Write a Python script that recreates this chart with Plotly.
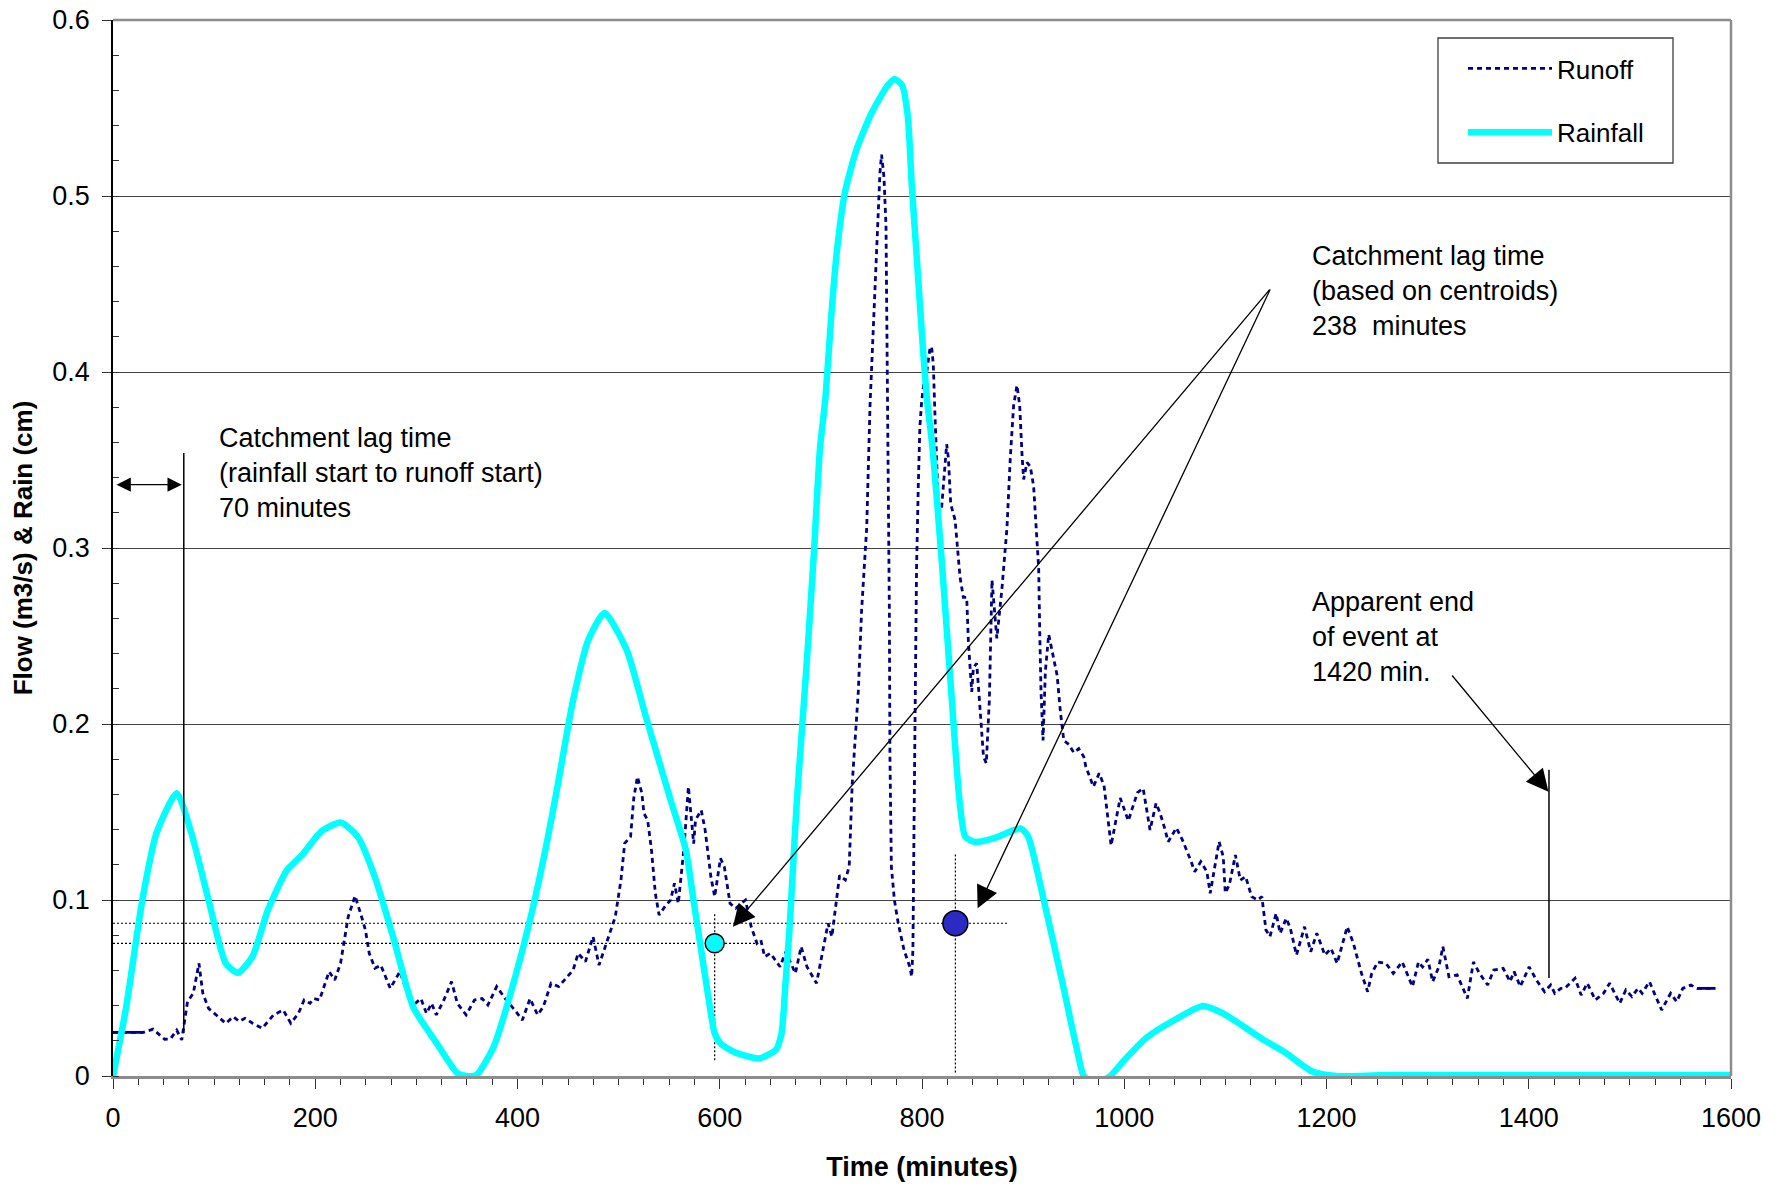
import plotly.graph_objects as go

# ---------------- data ----------------
runoff_time = [0, 30, 39.6, 51, 56.7, 63, 68, 73.7, 79.4, 85, 88.8, 94.5, 104, 111.5, 119, 124.8,
               130.5, 138, 147.5, 158.8, 168.3, 175.8, 183.4, 189, 194.8, 198.5, 204.2, 213.7, 219.3,
               225, 232.6, 239.4, 245.8, 249.6, 253.4, 259, 264.8, 274.2, 283.7, 291, 296.9, 304.5,
               310, 315, 319.7, 327.2, 334.8, 340.5, 349.2, 357.5, 365, 370.7, 379.4, 387.8, 397.2,
               404.8, 412.4, 419.9, 425.6, 433.2, 440.7, 448.3, 455, 460, 467.2, 474.7, 480.6, 489,
               496.7, 502.3, 506, 511.8, 515, 518.6, 523, 525, 528.7, 532.5, 536.3, 540, 545.7, 551.4,
               555.2, 559, 564.7, 569, 574.2, 576, 581.7, 585.5, 591.2, 595, 600.7, 604.5, 610.2,
               615.9, 625.4, 631.1, 636.8, 640.6, 644.4, 650.1, 659.6, 665.3, 674.8, 680.5, 686.2,
               695.7, 701.4, 707.1, 710.9, 714.7, 718.5, 724.2, 728, 731, 734.8, 737, 740.3, 745.3,
               748.6, 751.9, 755.2, 758.4, 760, 762.4, 764.4, 765.7, 766.7, 767.7, 768.3, 769.7,
               772.7, 776.5, 782.2, 787.9, 789.8, 791, 792.5, 794.6, 796.3, 797.9, 799.6, 802, 804.6,
               807.8, 809.5, 811.2, 812.8, 814.5, 816.1, 819.4, 821.8, 824.4, 826.1, 828.4, 832.7,
               836, 837.6, 840.9, 844.2, 845.9, 849.2, 850.8, 854.1, 856.8, 859.1, 860.8, 863.6,
               866.6, 869.2, 871.1, 874, 879, 884, 887.3, 890.6, 893.9, 896.6, 898.9, 900.5, 903.8,
               907.1, 910.4, 913.1, 915.4, 916.4, 917.7, 919.7, 922, 925.3, 928.6, 933.6, 936.9,
               940.2, 945.2, 950.1, 955, 960, 962, 969.5, 975.2, 980, 987, 996, 1004, 1013, 1018.7,
               1025.5, 1031.5, 1035.5, 1039.5, 1043.5, 1051.6, 1057.6, 1065.6, 1069.7, 1075.7, 1081.7,
               1085, 1087.8, 1093.8, 1097.9, 1099.9, 1103.9, 1109.9, 1114.8, 1120, 1126, 1132,
               1136.1, 1140.1, 1144.1, 1150.2, 1154.2, 1160.2, 1164.2, 1170.3, 1178.3, 1184.4,
               1190.4, 1198.4, 1204.5, 1210.5, 1220.5, 1226.6, 1234.6, 1240.7, 1244.7, 1250.7,
               1258.8, 1266, 1274.9, 1285, 1291, 1295, 1300.2, 1305, 1311.1, 1315.1, 1321.1, 1329.2,
               1339.3, 1345.3, 1351.3, 1359.4, 1365.4, 1374.7, 1381.5, 1385.5, 1391.6, 1400.4,
               1407.6, 1415.6, 1421.7, 1425.7, 1431.7, 1435.7, 1445.8, 1451.8, 1457.8, 1465.9, 1474,
               1480, 1490, 1496, 1502, 1508.1, 1512.1, 1519.4, 1524.2, 1531.4, 1540.3, 1546.3,
               1552.3, 1560.4, 1566.4, 1584.5]
runoff_flow = [0.0248, 0.0248, 0.0266, 0.0209, 0.021, 0.026, 0.0205, 0.0423, 0.047, 0.064, 0.047,
               0.0384, 0.0337, 0.0299, 0.0337, 0.031, 0.0328, 0.03, 0.0271, 0.0347, 0.0375, 0.03,
               0.0356, 0.0432, 0.0413, 0.044, 0.0432, 0.0593, 0.0545, 0.064, 0.0905, 0.1023, 0.0905,
               0.083, 0.0697, 0.0612, 0.063, 0.0498, 0.0593, 0.047, 0.0403, 0.044, 0.0356, 0.0413,
               0.0347, 0.0432, 0.0536, 0.0413, 0.0347, 0.0432, 0.044, 0.0403, 0.0508, 0.044, 0.0375,
               0.0318, 0.044, 0.0347, 0.0394, 0.0527, 0.0508, 0.0555, 0.0602, 0.0697, 0.065, 0.0792,
               0.063, 0.0773, 0.0905, 0.1114, 0.1322, 0.136, 0.158, 0.17, 0.1606, 0.1492, 0.1454,
               0.1284, 0.1038, 0.0915, 0.0962, 0.1, 0.1095, 0.098, 0.13, 0.1644, 0.132, 0.1454,
               0.151, 0.14, 0.1133, 0.1019, 0.1237, 0.119, 0.098, 0.0953, 0.1, 0.0848, 0.0754,
               0.0773, 0.0678, 0.0697, 0.0621, 0.0706, 0.0583, 0.0735, 0.0621, 0.0527, 0.0706,
               0.0867, 0.0792, 0.0962, 0.114, 0.1114, 0.119, 0.166, 0.202, 0.2183, 0.2649, 0.3113,
               0.381, 0.4272, 0.4736, 0.513, 0.5235, 0.5107, 0.483, 0.4044, 0.3345, 0.2649, 0.1814,
               0.119, 0.1, 0.0867, 0.0716, 0.0621, 0.0564, 0.0716, 0.166, 0.2883, 0.335, 0.369,
               0.383, 0.3947, 0.3994, 0.4133, 0.4145, 0.404, 0.376, 0.351, 0.325, 0.3228, 0.339,
               0.359, 0.351, 0.325, 0.316, 0.2951, 0.2835, 0.2719, 0.2719, 0.2464, 0.2183, 0.232,
               0.2344, 0.2135, 0.1949, 0.1814, 0.1777, 0.2136, 0.2818, 0.27, 0.2486, 0.2765, 0.3113,
               0.351, 0.381, 0.3924, 0.381, 0.3532, 0.339, 0.3486, 0.3463, 0.335, 0.3113, 0.2883,
               0.253, 0.2183, 0.1907, 0.23, 0.2509, 0.2416, 0.2277, 0.2068, 0.1907, 0.1884, 0.1837,
               0.186, 0.1814, 0.1758, 0.1644, 0.172, 0.165, 0.131, 0.158, 0.145, 0.161, 0.1634,
               0.1398, 0.155, 0.1492, 0.1417, 0.1331, 0.141, 0.134, 0.1227, 0.1161, 0.1218, 0.1161,
               0.1038, 0.1133, 0.1331, 0.1246, 0.104, 0.1085, 0.1256, 0.1113, 0.1133, 0.1019, 0.1,
               0.1019, 0.083, 0.0792, 0.0924, 0.0811, 0.0896, 0.084, 0.0687, 0.0848, 0.0706, 0.0811,
               0.0687, 0.0725, 0.064, 0.0848, 0.0754, 0.0583, 0.0479, 0.0583, 0.0648, 0.064, 0.0583,
               0.0648, 0.0508, 0.0648, 0.062, 0.0663, 0.0536, 0.062, 0.0735, 0.0564, 0.0574, 0.0441,
               0.0648, 0.0583, 0.0517, 0.0602, 0.0612, 0.0536, 0.0593, 0.0508, 0.062, 0.0545, 0.0479,
               0.0517, 0.047, 0.0498, 0.0498, 0.0555, 0.046, 0.0527, 0.0432, 0.047, 0.0527, 0.0413,
               0.0489, 0.0451, 0.0498, 0.047, 0.0536, 0.047, 0.0375, 0.047, 0.0422, 0.0498, 0.0517,
               0.0498, 0.0498]

rain_time = [0, 13, 29, 43, 63, 77.5, 94.5, 111.5, 123.6, 138, 153, 172, 187, 206, 225, 242, 259,
             278, 297, 320, 340.5, 350, 359.4, 376.5, 395, 414, 429.5, 440, 455, 470, 486, 508, 527,
             551.3, 566.5, 574, 581.6, 589.2, 594.9, 600.6, 613.8, 638.4, 655.4, 661.1, 665, 668.7,
             672.5, 676.3, 685.7, 693.3, 699, 704.6, 710.2, 715.9, 723.6, 735, 750, 765, 772.7,
             780.3, 786, 789.8, 795.4, 801.1, 805, 810.6, 820, 829.5, 837, 842.7, 852, 871, 897.6,
             905, 920.4, 939, 954, 960, 972, 986, 1000, 1022.5, 1049.6, 1077.7, 1097.7, 1138, 1158,
             1186, 1210, 1260, 1600]
rain_depth = [0, 0.039, 0.1, 0.138, 0.1607, 0.138, 0.1, 0.064, 0.0587, 0.068, 0.094, 0.117, 0.1256,
              0.139, 0.144, 0.136, 0.113, 0.077, 0.039, 0.0187, 0.0017, 0, 0.0006, 0.0167, 0.0507,
              0.0926, 0.134, 0.166, 0.2136, 0.2477, 0.263, 0.242, 0.204, 0.157, 0.1284, 0.1, 0.0716,
              0.043, 0.0244, 0.0186, 0.0138, 0.01, 0.0148, 0.0242, 0.0527, 0.0811, 0.119, 0.157,
              0.232, 0.299, 0.3557, 0.386, 0.4314, 0.469, 0.5015, 0.526, 0.547, 0.562, 0.5665, 0.563,
              0.545, 0.507, 0.46, 0.412, 0.384, 0.3557, 0.289, 0.2136, 0.157, 0.136, 0.133, 0.135,
              0.1407, 0.136, 0.1, 0.0527, 0.013, 0, -0.004, 0, 0.009, 0.022, 0.0318, 0.0398, 0.0356,
              0.0205, 0.0138, 0.0025, 0, 0.0005, 0.0005]

series_names = ["Runoff", "Rainfall"]

# centroids of rainfall and runoff (minutes, value)
centroid_time = [595, 833]
centroid_value = [0.0754, 0.0868]
centroid_guide_end = [636, 886]          # end of horizontal dotted guides
centroid_guide_bottom = [0.009, 0.002]   # vertical dotted guides
centroid_guide_top = [0.0926, 0.127]

# annotation anchors
lag_start_time = 70
lag_start_line = [0.0245, 0.354]
lag_arrow_level = 0.336
event_end_time = 1420
event_end_line = [0.0557, 0.174]
centroid_arrow_apex = [1145, 0.4477]
centroid_arrow_tips = [[613, 0.0848], [855, 0.0953]]
end_arrow_tail = [1323, 0.2284]
end_arrow_tip = [1419.5, 0.1615]

x_ticks = [0, 200, 400, 600, 800, 1000, 1200, 1400, 1600]
y_ticks = [0, 0.1, 0.2, 0.3, 0.4, 0.5, 0.6]

FONT = "Liberation Sans, Arial, sans-serif"

# layout geometry (pixels): plot area at x 113..1731, y 20..1076 of the window
W, H = 1787, 1186
ML, MR, MT, MB = 113, 56, 20, 110
PW, PH = W - ML - MR, H - MT - MB

def px_x(p):   # window pixel -> paper fraction
    return (p - ML) / PW

def px_y(p):
    return 1 - (p - MT) / PH

fig = go.Figure()

runoff_line = dict(color="#000080", width=2.8, dash="5px,4px")
fig.add_trace(go.Scatter(
    x=runoff_time, y=runoff_flow, mode="lines", name=series_names[0], legendgroup="a",
    line=runoff_line))
# flat solid start and end pieces of the runoff record
fig.add_trace(go.Scatter(x=runoff_time[:2], y=runoff_flow[:2], mode="lines", showlegend=False,
                         line=dict(color="#000080", width=2.8), hoverinfo="skip"))
fig.add_trace(go.Scatter(x=runoff_time[-2:], y=runoff_flow[-2:], mode="lines", showlegend=False,
                         line=dict(color="#000080", width=2.8), hoverinfo="skip"))

fig.add_trace(go.Scatter(
    x=rain_time, y=rain_depth, mode="lines", name=series_names[1], legendgroup="b",
    line=dict(color="#00FFFF", width=6.5, shape="spline", smoothing=0.6)))

fig.add_trace(go.Scatter(
    x=centroid_time, y=centroid_value, mode="markers", showlegend=False,
    marker=dict(size=[19, 25], color=["#00FFFF", "#2B2BC4"], opacity=1,
                line=dict(color="black", width=1.5))))

shapes = []
dot = dict(color="black", width=1.2, dash="2px,2px")
for t, v, xe, yb, yt in zip(centroid_time, centroid_value, centroid_guide_end,
                            centroid_guide_bottom, centroid_guide_top):
    shapes.append(dict(type="line", xref="x", yref="y", x0=0, x1=xe, y0=v, y1=v, line=dot, layer="below"))
    shapes.append(dict(type="line", xref="x", yref="y", x0=t, x1=t, y0=yb, y1=yt, line=dot, layer="below"))

solid = dict(color="black", width=1.5)
shapes.append(dict(type="line", xref="x", yref="y", x0=lag_start_time, x1=lag_start_time,
                   y0=lag_start_line[0], y1=lag_start_line[1], line=solid))
shapes.append(dict(type="line", xref="x", yref="y", x0=event_end_time, x1=event_end_time,
                   y0=event_end_line[0], y1=event_end_line[1], line=solid))
# frame top / right
shapes.append(dict(type="line", xref="paper", yref="paper", x0=0, x1=1, y0=1, y1=1,
                   line=dict(color="#8c8c8c", width=2.5)))
shapes.append(dict(type="line", xref="paper", yref="paper", x0=1, x1=1, y0=0, y1=1,
                   line=dict(color="#8c8c8c", width=2.5)))
# legend frame
shapes.append(dict(type="rect", xref="paper", yref="paper",
                   x0=px_x(1438), x1=px_x(1673), y0=px_y(163), y1=px_y(38),
                   line=dict(color="#404040", width=1.3), fillcolor="white", layer="above"))

txt_font = dict(family=FONT, size=27, color="black")
annotations = [
    dict(x=103, y=0.3426, xref="x", yref="y", xanchor="left", yanchor="middle", align="left",
         showarrow=False, font=txt_font,
         text="Catchment lag time<br>(rainfall start to runoff start)<br>70 minutes"),
    dict(x=1184, y=0.4463, xref="x", yref="y", xanchor="left", yanchor="middle", align="left",
         showarrow=False, font=txt_font,
         text="Catchment lag time<br>(based on centroids)<br>238\u00a0 minutes"),
    dict(x=1184, y=0.2494, xref="x", yref="y", xanchor="left", yanchor="middle", align="left",
         showarrow=False, font=txt_font,
         text="Apparent end<br>of event at<br>1420 min."),
]
for tip in centroid_arrow_tips:
    annotations.append(dict(x=tip[0], y=tip[1], ax=centroid_arrow_apex[0], ay=centroid_arrow_apex[1],
                            xref="x", yref="y", axref="x", ayref="y", text="", showarrow=True,
                            arrowhead=2, arrowsize=3.4, arrowwidth=1.3, arrowcolor="black", standoff=0))
annotations.append(dict(x=end_arrow_tip[0], y=end_arrow_tip[1], ax=end_arrow_tail[0], ay=end_arrow_tail[1],
                        xref="x", yref="y", axref="x", ayref="y", text="", showarrow=True,
                        arrowhead=2, arrowsize=3.4, arrowwidth=1.3, arrowcolor="black", standoff=0))
annotations.append(dict(x=lag_start_time - 2, y=lag_arrow_level, ax=2, ay=lag_arrow_level,
                        xref="x", yref="y", axref="x", ayref="y", text="", showarrow=True,
                        arrowside="end+start", arrowhead=2, startarrowhead=2,
                        arrowsize=2.2, startarrowsize=2.2, arrowwidth=1.3, arrowcolor="black",
                        standoff=0, startstandoff=0))

fig.update_layout(
    width=W, height=H,
    margin=dict(l=ML, r=MR, t=MT, b=MB, autoexpand=False),
    paper_bgcolor="white", plot_bgcolor="white",
    font=dict(family=FONT, size=27, color="black"),
    shapes=shapes, annotations=annotations,
    showlegend=True,
    legend=dict(x=px_x(1463), y=px_y(45), xanchor="left", yanchor="top",
                borderwidth=0, bgcolor="rgba(0,0,0,0)",
                font=dict(family=FONT, size=26, color="black"),
                itemwidth=84, tracegroupgap=27, traceorder="grouped"),
    xaxis=dict(range=[0, 1600], tickvals=x_ticks, ticks="outside", ticklen=10, tickwidth=1.3,
               tickcolor="#333333", showline=True, linecolor="#8c8c8c", linewidth=2.5,
               showgrid=False, zeroline=False, tickfont=dict(size=27), automargin=False,
               ticklabelstandoff=6, ticklabeloverflow="allow",
               minor=dict(dtick=25, ticks="outside", ticklen=6, tickwidth=1.3, tickcolor="#333333"),
               title=dict(text="Time (minutes)", font=dict(size=27, weight="bold"), standoff=25)),
    yaxis=dict(range=[0, 0.6], tickvals=y_ticks, ticktext=[str(v) for v in y_ticks],
               ticks="outside", ticklen=9, tickwidth=1.3, tickcolor="#333333",
               showline=True, linecolor="black", linewidth=1.5, showgrid=True,
               gridcolor="#444444", gridwidth=1.2, zeroline=False, tickfont=dict(size=27),
               automargin=False, ticklabelstandoff=7, ticklabeloverflow="allow",
               minor=dict(dtick=0.02, ticks="inside", ticklen=6, tickwidth=1.3, tickcolor="#333333",
                          showgrid=False),
               title=dict(text="Flow (m3/s) & Rain (cm)", font=dict(size=26, weight="bold"), standoff=12)),
)

# remove the default page margin so the figure fills the window exactly
fig.write_html("out.html", config={"displayModeBar": False},
               post_script="document.body.style.margin='0px';document.body.style.overflow='hidden';")
